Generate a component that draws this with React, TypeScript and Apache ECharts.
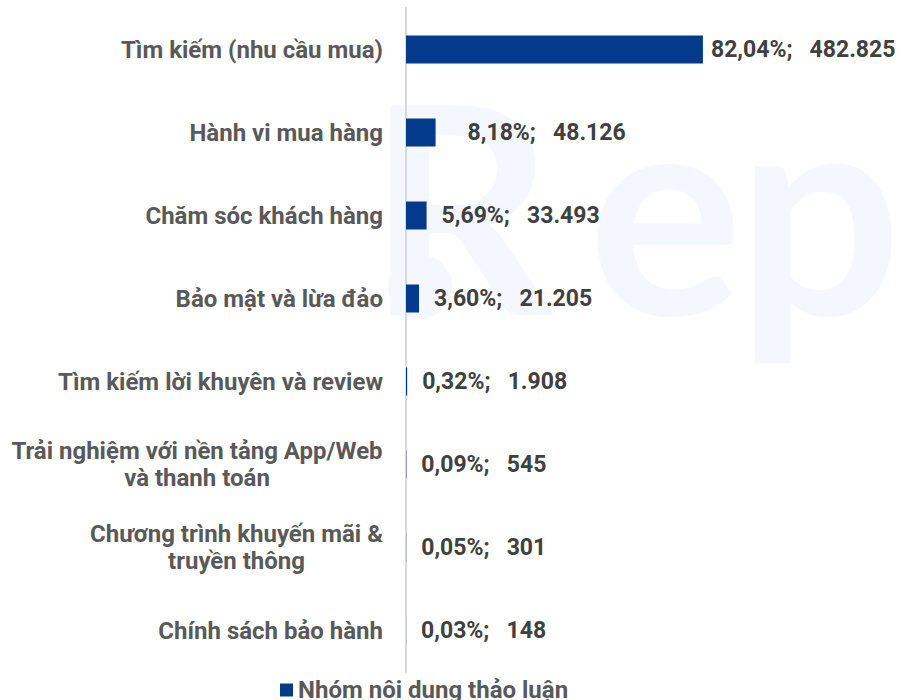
import React, { useEffect, useRef } from "react";
import * as echarts from "echarts";

const categories: string[] = [
  "Tìm kiếm (nhu cầu mua)",
  "Hành vi mua hàng",
  "Chăm sóc khách hàng",
  "Bảo mật và lừa đảo",
  "Tìm kiếm lời khuyên và review",
  "Trải nghiệm với nền tảng App/Web\nvà thanh toán",
  "Chương trình khuyến mãi &\ntruyền thông",
  "Chính sách bảo hành",
];
const values: number[] = [482825, 48126, 33493, 21205, 1908, 545, 301, 148];
const shares: number[] = [82.04, 8.18, 5.69, 3.6, 0.32, 0.09, 0.05, 0.03];
const seriesName = "Nhóm nội dung thảo luận";
const labelShift: number[] = [-7, 17, 0, 0, 0, 0, 0, 0];

const FONT = "Roboto";
const FS = 24;
const VFS = 23;
const LABEL_COLOR = "#595959";
const VALUE_COLOR = "#404040";
const BAR_COLOR = "#033A8B";
const WM = "#f4f7fe";

function fmtInt(n: number): string {
  return String(n).replace(/\B(?=(\d{3})+(?!\d))/g, ".");
}
function fmtPct(p: number): string {
  return p.toFixed(2).replace(".", ",") + "%";
}

export default function App() {
  const ref = useRef<HTMLDivElement>(null);
  useEffect(() => {
    document.body.style.margin = "0";
    if (!ref.current) return;
    const chart = echarts.init(ref.current, undefined, { renderer: "svg" });

    const canvas = document.createElement("canvas");
    const ctx = canvas.getContext("2d")!;
    ctx.font = `bold ${FS}px ${FONT}`;
    const rich: Record<string, any> = {};
    categories.forEach((c, i) => {
      if (c.includes("\n")) {
        const w = Math.max(...c.split("\n").map((l) => ctx.measureText(l).width));
        rich["m" + i] = {
          width: Math.ceil(w),
          align: "center",
          fontSize: FS,
          fontWeight: "bold",
          fontFamily: FONT,
          color: LABEL_COLOR,
          lineHeight: 27,
        };
      }
    });

    const wmStyle = (t: string) => ({
      text: t,
      fontSize: 290,
      fontWeight: "bold",
      fontFamily: "Lato",
      fill: WM,
      verticalAlign: "middle",
    });

    chart.setOption({
      animation: false,
      backgroundColor: "#ffffff",
      graphic: [
        {
          type: "group",
          silent: true,
          z: -10,
          children: [
            { type: "circle", shape: { cx: 420, cy: 287, r: 32 }, style: { fill: WM } },
            { type: "text", x: 367, y: 203, style: wmStyle("R") },
            { type: "text", x: 588, y: 203, style: wmStyle("e") },
            { type: "text", x: 737, y: 203, style: wmStyle("p") },
          ],
        },
      ],
      grid: { left: 406, top: 8, bottom: 28, right: 126, containLabel: false },
      legend: {
        data: [seriesName],
        left: 280,
        top: 678,
        padding: 0,
        icon: "rect",
        itemWidth: 13,
        itemHeight: 13,
        textStyle: { fontSize: FS, fontWeight: "bold", fontFamily: FONT, color: LABEL_COLOR },
      },
      xAxis: {
        type: "value",
        min: 0,
        max: 600000,
        show: false,
        splitLine: { show: false },
      },
      yAxis: {
        type: "category",
        inverse: true,
        data: categories,
        axisLine: { show: true, lineStyle: { color: "#d9d9d9", width: 2 } },
        axisTick: { show: false },
        axisLabel: {
          margin: 23,
          fontSize: FS,
          fontWeight: "bold",
          fontFamily: FONT,
          color: LABEL_COLOR,
          lineHeight: 27,
          formatter: (v: string, i: number) => {
            if (v.includes("\n")) {
              return v
                .split("\n")
                .map((l) => `{m${i}|${l}}`)
                .join("\n");
            }
            return v;
          },
          rich,
        },
      },
      series: [
        {
          name: seriesName,
          type: "bar",
          barWidth: 28,
          itemStyle: { color: BAR_COLOR },
          label: {
            show: true,
            position: "right",
            distance: 15,
            fontSize: VFS,
            fontWeight: "bold",
            fontFamily: FONT,
            color: VALUE_COLOR,
            formatter: (p: any) =>
              `${fmtPct(shares[p.dataIndex])};\u00a0\u00a0\u00a0${fmtInt(values[p.dataIndex])}`,
          },
          data: values.map((v, i) => ({
            value: v,
            label: { offset: [labelShift[i], 0] },
          })),
        },
      ],
    });
    return () => chart.dispose();
  }, []);
  return <div ref={ref} style={{ width: 901, height: 700 }} />;
}
